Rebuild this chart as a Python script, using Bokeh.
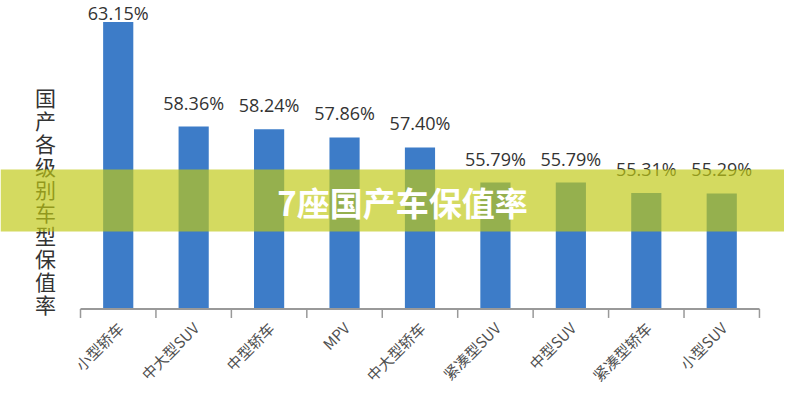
from math import pi

from bokeh.plotting import figure
from bokeh.models import BoxAnnotation, Label, Range1d, ColumnDataSource
from bokeh.core.properties import value
from bokeh.embed import file_html
from bokeh.resources import INLINE


categories = ['小型轿车', '中大型SUV', '中型轿车', 'MPV', '中大型轿车',
              '紧凑型SUV', '中型SUV', '紧凑型轿车', '小型SUV']
rates = [63.15, 58.36, 58.24, 57.86, 57.40, 55.79, 55.79, 55.31, 55.29]
y_title = '国产各级别车型保值率'
banner_title = '7座国产车保值率'

# page geometry (pixels) -> data ranges
W, H = 784, 384
left_px = 80          # where the category axis starts
cat_px = 75.44        # width of one category
pct_px = 21.82        # pixels per percentage point
top_val = 64.135      # value at the top edge of the canvas
base_val = 50         # bars start here


def y_at(px):
    return top_val - px / pct_px


n = len(categories)
xs = [i + 0.5 for i in range(n)]

# keep the top label readable inside the canvas
label_off = []
for r in rates:
    bar_top_px = (top_val - r) * pct_px
    label_off.append(-12 if bar_top_px - 12 >= 24 else 24 - bar_top_px)

source = ColumnDataSource(data=dict(
    x=xs,
    rate=rates,
    label=['%.2f%%' % r for r in rates],
    off=label_off,
    cat=categories,
    base=[base_val] * n,
))

p = figure(width=W, height=H, output_backend="svg", toolbar_location=None,
           x_range=Range1d(-left_px / cat_px, (W - left_px) / cat_px),
           y_range=Range1d(y_at(H), top_val),
           x_axis_type=None, y_axis_type=None, min_border=0)
p.outline_line_color = None
p.xgrid.visible = False
p.ygrid.visible = False

# bars
p.vbar(x='x', top='rate', bottom=base_val, width=0.4, source=source,
       fill_color='#3d7cc8', line_color=None)

# value labels above bars
p.text(x='x', y='rate', text='label', source=source, y_offset='off',
       text_align='center', text_baseline='bottom',
       text_font=value('Open Sans'), text_font_size='18px', text_color='#333333')

# category axis: line, ticks between bars, rotated labels
p.segment(x0=0, x1=n, y0=base_val, y1=base_val, line_color='#999999', line_width=2)
p.segment(x0=list(range(n + 1)), x1=list(range(n + 1)),
          y0=[base_val] * (n + 1), y1=[base_val - 9 / pct_px] * (n + 1),
          line_color='#999999', line_width=1.5)
p.text(x='x', y='base', text='cat', source=source, angle=pi / 4,
       x_offset=2, y_offset=16, text_align='right', text_baseline='middle',
       text_font=value('Noto Sans CJK SC'), text_font_size='15px',
       text_color='#505050')

# vertical axis title, one character per line
chars = list(y_title)
p.text(x=[-35 / cat_px] * len(chars), y=[y_at(96 + 23 * i) for i in range(len(chars))],
       text=chars, text_align='center', text_baseline='middle',
       text_font=value('Noto Sans CJK SC'), text_font_size='21px',
       text_color='#333333')

# yellow banner across the chart
p.add_layout(BoxAnnotation(bottom=y_at(231), top=y_at(169),
                           fill_color='#c0c814', fill_alpha=0.68, line_color=None))
p.add_layout(Label(x=(402 - left_px) / cat_px, y=y_at(201),
                   text=banner_title, text_align='center', text_baseline='middle',
                   text_font='Noto Sans CJK SC', text_font_style='bold',
                   text_font_size='33px', text_color='white'))

open("out.html", "w").write(file_html(p, INLINE))
